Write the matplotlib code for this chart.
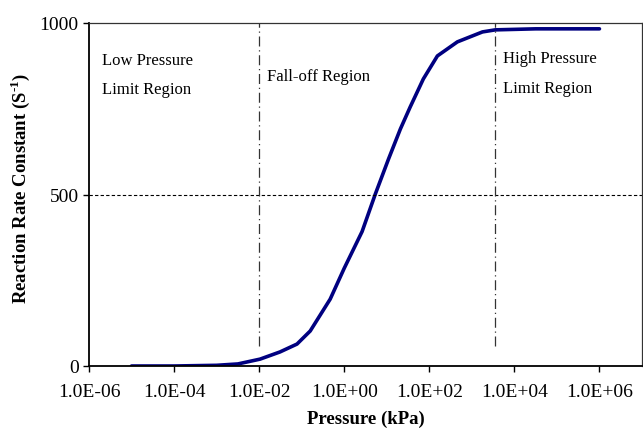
import matplotlib
matplotlib.use("Agg")
import matplotlib.pyplot as plt

plt.rcParams['font.family'] = ['Liberation Serif', 'DejaVu Serif']
plt.rcParams['mathtext.fontset'] = 'custom'
plt.rcParams['mathtext.rm'] = 'Liberation Serif'
plt.rcParams['mathtext.bf'] = 'Liberation Serif:bold'

# data
pressure = [1e-5, 1e-4, 1e-3, 10**-2.5, 10**-1.98, 10**-1.51, 10**-1.11, 10**-0.80,
            10**-0.33, 10**0.0, 10**0.42, 10**0.73, 10**1.04, 10**1.32, 10**1.55,
            10**1.86, 10**2.19, 10**2.66, 10**3.25, 10**3.55, 10**4.5, 1e6]
rate = [0, 0, 2, 6, 20, 41, 64, 102, 195, 285, 392, 501, 603, 691, 755,
        837, 904, 945, 974, 980, 983, 983]

region_bounds = [1e-2, 3.5e3]
xticks = [1e-6, 1e-4, 1e-2, 1e0, 1e2, 1e4, 1e6]
xtick_labels = ["1.0E-06", "1.0E-04", "1.0E-02", "1.0E+00", "1.0E+02", "1.0E+04", "1.0E+06"]
yticks = [0, 500, 1000]

fig = plt.figure(figsize=(6.43, 4.31), dpi=100)
ax = fig.add_axes([89 / 643, 1 - 367 / 431, (642 - 89) / 643, (367 - 24) / 431])

ax.plot(pressure, rate, color="#000080", lw=2.6, solid_capstyle="round",
        solid_joinstyle="round")
ax.axhline(500, color="black", lw=0.8, ls=(0, (3, 2)))
for b in region_bounds:
    ax.plot([b, b], [58, 1000], color="#333333", lw=0.9, ls=(0, (8, 3, 1, 3)))

ax.set_xscale("log")
ax.set_xlim(1e-6, 1e7)
ax.set_ylim(0, 1000)
ax.set_xticks(xticks)
ax.set_xticklabels(xtick_labels)
ax.xaxis.set_minor_locator(matplotlib.ticker.NullLocator())
ax.set_yticks(yticks)
ax.tick_params(labelsize=14, direction="out", length=4, width=1, colors="black")
ax.tick_params(axis="x", pad=8)

for s in ["left", "bottom"]:
    ax.spines[s].set_linewidth(1.3)
for s in ["top", "right"]:
    ax.spines[s].set_linewidth(0.9)
    ax.spines[s].set_color("#333333")

ax.text(2e-6, 880, "Low Pressure", fontsize=12)
ax.text(2e-6, 795, "Limit Region", fontsize=12)
ax.text(1.5e-2, 835, "Fall-off Region", fontsize=12)
ax.text(5.5e3, 885, "High Pressure", fontsize=12)
ax.text(5.5e3, 800, "Limit Region", fontsize=12)

ax.set_xlabel("Pressure (kPa)", fontsize=13.5, fontweight="bold", labelpad=7)
ax.set_ylabel("Reaction Rate Constant (S$^{\\mathbf{\\text{-}1}}$)", fontsize=13.5,
              fontweight="bold")
ax.yaxis.set_label_coords(-0.103, 0.52)

fig.savefig("out.png", dpi=100)
